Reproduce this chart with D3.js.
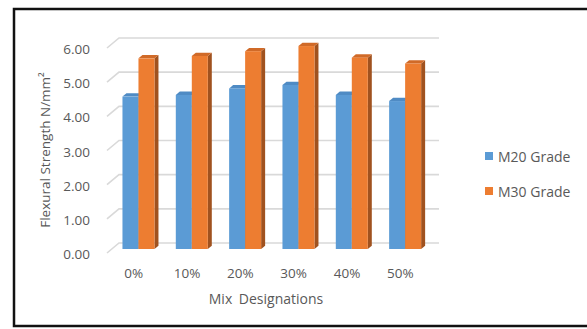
<!DOCTYPE html>
<html lang="en">
<head>
<meta charset="utf-8">
<title>Flexural Strength</title>
<script src="https://cdn.jsdelivr.net/npm/d3@7"></script>
<style>
  body { margin: 0; background: #fff; }
  text { font-family: "Open Sans", sans-serif; fill: #595959; }
</style>
</head>
<body>
<svg id="chart"></svg>
<script>
const categories = ['0%', '10%', '20%', '30%', '40%', '50%'];
const m20 = [4.46, 4.51, 4.70, 4.80, 4.51, 4.33];
const m30 = [5.58, 5.65, 5.79, 5.94, 5.60, 5.43];
const seriesNames = ['M20 Grade', 'M30 Grade'];
const yTicks = [0, 1, 2, 3, 4, 5, 6];

const width = 587, height = 329;
// floor depth offset (back wall -> front edge)
const depthX = -12, depthY = 10;
// bars sit part way into the floor
const barT = 0.6;
const barDx = 4, barDy = -3.3;

const colors = {
  face: ['#5b9bd5', '#ed7d31'],
  side: ['#41719c', '#a0521f'],
  top:  ['#4f8bc4', '#d06a28']
};

const svg = d3.select('#chart')
  .attr('width', width)
  .attr('height', height);

// outer frame
svg.append('rect')
  .attr('x', 14).attr('y', 9)
  .attr('width', 620).attr('height', 317)
  .attr('fill', 'none')
  .attr('stroke', '#111')
  .attr('stroke-width', 2.5);

const x = d3.scaleBand()
  .domain(categories)
  .range([119, 439])
  .paddingInner(0.4)
  .paddingOuter(0.2);

const xOuter = d3.scaleBand()
  .domain(categories)
  .range([119, 439]);

const y = d3.scaleLinear()
  .domain([0, 6])
  .range([243, 38]);

// gridlines with the 3D floor edge
const grid = svg.append('g');
yTicks.forEach(t => {
  grid.append('path')
    .attr('d', `M${119 + depthX},${y(t) + depthY}L119,${y(t)}L439,${y(t)}`)
    .attr('fill', 'none')
    .attr('stroke', '#d9d9d9')
    .attr('stroke-width', 1.6);
});

// y tick labels
svg.append('g')
  .selectAll('text')
  .data(yTicks)
  .enter().append('text')
  .attr('x', 90)
  .attr('y', d => y(d) + depthY + 1)
  .attr('text-anchor', 'end')
  .attr('dominant-baseline', 'central')
  .style('font-size', '13.5px')
  .text(d => d.toFixed(2));

// x tick labels
svg.append('g')
  .selectAll('text')
  .data(categories)
  .enter().append('text')
  .attr('x', d => xOuter(d) + xOuter.bandwidth() / 2 + depthX)
  .attr('y', 278)
  .attr('text-anchor', 'middle')
  .style('font-size', '13.5px')
  .text(d => d);

// bars
const offX = depthX * barT, offY = depthY * barT;
const bw = x.bandwidth() / 2;
const bars = svg.append('g');
[m20, m30].forEach((vals, s) => {
  vals.forEach((v, i) => {
    const x0 = x(categories[i]) + offX + s * bw;
    const x1 = x0 + bw;
    const yt = y(v) + offY;
    const yb = y(0) + offY;
    bars.append('path')
      .attr('d', `M${x1},${yt}L${x1 + barDx},${yt + barDy}L${x1 + barDx},${yb + barDy}L${x1},${yb}Z`)
      .attr('fill', colors.side[s]);
    bars.append('path')
      .attr('d', `M${x0},${yt}L${x0 + barDx},${yt + barDy}L${x1 + barDx},${yt + barDy}L${x1},${yt}Z`)
      .attr('fill', colors.top[s]);
    bars.append('rect')
      .attr('x', x0)
      .attr('y', yt)
      .attr('width', bw)
      .attr('height', yb - yt)
      .attr('fill', colors.face[s]);
  });
});

// axis titles
svg.append('text')
  .attr('transform', 'translate(50,150) rotate(-90)')
  .attr('text-anchor', 'middle')
  .style('font-size', '13.5px')
  .text('Flexural Strength N/mm²');

svg.append('text')
  .attr('x', 266)
  .attr('y', 304)
  .attr('text-anchor', 'middle')
  .style('font-size', '14px')
  .style('word-spacing', '3px')
  .text('Mix Designations');

// legend
const legend = svg.append('g')
  .selectAll('g')
  .data(seriesNames)
  .enter().append('g')
  .attr('transform', (d, i) => `translate(485,${152 + i * 35})`);

legend.append('rect')
  .attr('width', 8).attr('height', 8)
  .attr('fill', (d, i) => colors.face[i]);

legend.append('text')
  .attr('x', 13)
  .attr('y', 9.5)
  .style('font-size', '14px')
  .text(d => d);
</script>
</body>
</html>
